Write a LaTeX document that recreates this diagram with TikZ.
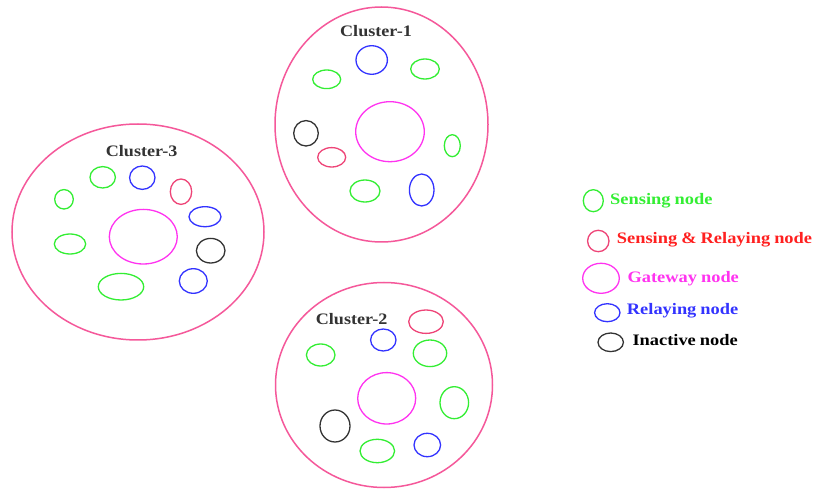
\documentclass[tikz,border=0pt]{standalone}
\usepackage{fontspec}
\setmainfont{Liberation Serif}
\usetikzlibrary{shapes.geometric}
\definecolor{cgreen}{HTML}{33EE33}
\definecolor{cring}{HTML}{F5589A}
\definecolor{cpink}{HTML}{EE4477}
\definecolor{cgate}{HTML}{FF33F0}
\definecolor{cblue}{HTML}{3333FF}
\definecolor{cgrey}{HTML}{333333}
\definecolor{cred}{HTML}{FF2020}
\newcommand{\tightsp}{\spaceskip=0.22em plus 0.05em\relax}
\tikzset{
  nd/.style={ellipse, draw, line width=1.3pt, inner sep=0pt},
  sense/.style={nd, draw=cgreen},
  relay/.style={nd, draw=cblue},
  senrel/.style={nd, draw=cpink},
  gate/.style={nd, draw=cgate},
  inact/.style={nd, draw=cgrey},
  cluster/.style={nd, draw=cring, line width=1.5pt},
  ctitle/.style={font=\bfseries\fontsize{16}{18}\selectfont, text=cgrey, inner sep=0pt, xscale=1.13},
  ltext/.style={font=\bfseries\fontsize{16}{18}\selectfont\tightsp, anchor=west, inner sep=0pt, xscale=1.15},
}
% \mynd{style}{name}{x}{y}{rx}{ry}
\newcommand{\mynd}[6]{\node[#1, minimum width=#5*2pt, minimum height=#6*2pt] (#2) at (#3,#4) {};}
\begin{document}
\begin{tikzpicture}[x=1pt,y=-1pt]
\useasboundingbox[fill=white] (0,0) rectangle (815,489);
% Cluster 1
\mynd{cluster}{cl1}{381.5}{124.5}{106.5}{117.5}
\node[ctitle] (t1) at (376,31) {Cluster-1};
\mynd{relay}{a1}{371.7}{60}{15.7}{14.3}
\mynd{sense}{a2}{326.7}{79.3}{14}{9.3}
\mynd{sense}{a3}{425}{69}{14.3}{10}
\mynd{gate}{a4}{390}{131.7}{34.3}{30}
\mynd{inact}{a5}{306}{133.3}{12.3}{12.7}
\mynd{senrel}{a6}{331.7}{157.3}{14}{9.7}
\mynd{sense}{a7}{452.3}{145.7}{8}{11}
\mynd{sense}{a8}{365}{191}{15}{11}
\mynd{relay}{a9}{421.7}{190}{12.3}{16}
% Cluster 3
\mynd{cluster}{cl3}{138}{232}{126}{108}
\node[ctitle] (t3) at (141.7,151) {Cluster-3};
\mynd{sense}{b1}{102.7}{177.3}{12.7}{10.7}
\mynd{relay}{b2}{142.3}{177.7}{12.7}{11.7}
\mynd{senrel}{b3}{181}{191.7}{10.7}{12.7}
\mynd{sense}{b4}{64}{199.3}{9.3}{9.7}
\mynd{relay}{b5}{205}{216.7}{16}{10}
\mynd{gate}{b6}{143.3}{236.7}{34}{27.3}
\mynd{sense}{b7}{70}{244}{15.7}{10}
\mynd{inact}{b8}{210.7}{250.7}{14.3}{12.3}
\mynd{sense}{b9}{121}{286.7}{22.7}{13.3}
\mynd{relay}{b10}{193.3}{281}{14}{12.3}
% Cluster 2
\mynd{cluster}{cl2}{384}{385}{108.5}{102.5}
\node[ctitle] (t2) at (351.7,319) {Cluster-2};
\mynd{senrel}{c1}{426}{321.7}{17.3}{11.7}
\mynd{relay}{c2}{383.3}{340}{12.7}{11}
\mynd{sense}{c3}{320.7}{355}{14.3}{11}
\mynd{sense}{c4}{430}{353.3}{16.7}{13.3}
\mynd{gate}{c5}{386.7}{398.3}{29}{25.7}
\mynd{sense}{c6}{454.3}{402.7}{14.3}{16}
\mynd{inact}{c7}{335}{426}{15}{16}
\mynd{sense}{c8}{377.3}{451}{17.3}{11.7}
\mynd{relay}{c9}{427.3}{445}{13.3}{11.7}
% Legend
\mynd{sense}{l1}{593.3}{200.7}{10}{11}
\node[ltext, text=cgreen] (lt1) at (610,201) {Sensing node};
\mynd{senrel}{l2}{598.3}{241}{10.7}{10.7}
\node[ltext, text=cred] (lt2) at (616.7,239.5) {Sensing \& Relaying node};
\mynd{gate}{l3}{601}{278.3}{18.3}{15}
\node[ltext, text=cgate] (lt3) at (627.3,278.5) {Gateway node};
\mynd{relay}{l4}{607.3}{312.7}{12.7}{9}
\node[ltext, text=cblue] (lt4) at (626.7,311) {Relaying node};
\mynd{inact}{l5}{610.7}{342.3}{12.7}{9.3}
\node[ltext, text=black] (lt5) at (632.3,340.3) {Inactive node};
\end{tikzpicture}
\end{document}
